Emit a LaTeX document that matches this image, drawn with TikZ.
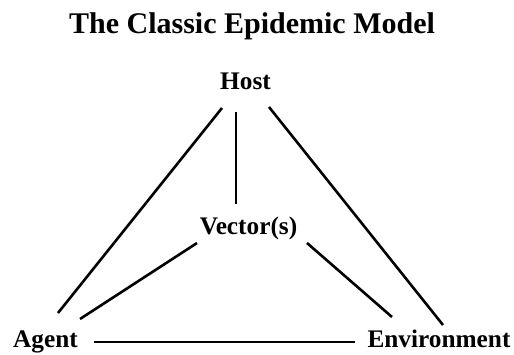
\documentclass[tikz,border=0pt]{standalone}
\usepackage{fontspec}
\setmainfont{Liberation Serif}
\usetikzlibrary{calc}
\begin{document}
\begin{tikzpicture}[x=1pt,y=-1pt,
   every node/.style={inner sep=0pt,anchor=base,text height=17pt,text depth=0pt,
     font=\bfseries\fontsize{25.3}{30}\selectfont},
   heading/.style={font=\bfseries\fontsize{30}{36}\selectfont},
   link/.style={line width=2.6pt}]
\useasboundingbox (0,0) rectangle (514,354);

\node[heading] (title) at (252,33) {The Classic Epidemic Model};
\node (host) at (245.5,89) {Host};
\node (vector) at (248.5,234) {Vector(s)};
\node (agent) at (45.5,347) {Agent};
\node (env) at (439,347) {Environment};

% triangle
\draw[link] ($(host)+(-23.5,27.5)$) -- ($(agent)+(12.5,-25.5)$);
\draw[link] ($(host)+(23.5,26.5)$) -- ($(env)+(4,-13.5)$);
\draw[link] ($(agent)+(48.5,3.5)$) -- ($(env)+(-84,3.5)$);
% vector in the middle
\draw[link] ($(host)+(-9.5,31.5)$) -- ($(vector)+(-12.5,-21.5)$);
\draw[link] ($(vector)+(-51.5,17.5)$) -- ($(agent)+(34.5,-19.5)$);
\draw[link] ($(vector)+(58.5,17.5)$) -- ($(env)+(-47,-21.5)$);

\end{tikzpicture}
\end{document}
